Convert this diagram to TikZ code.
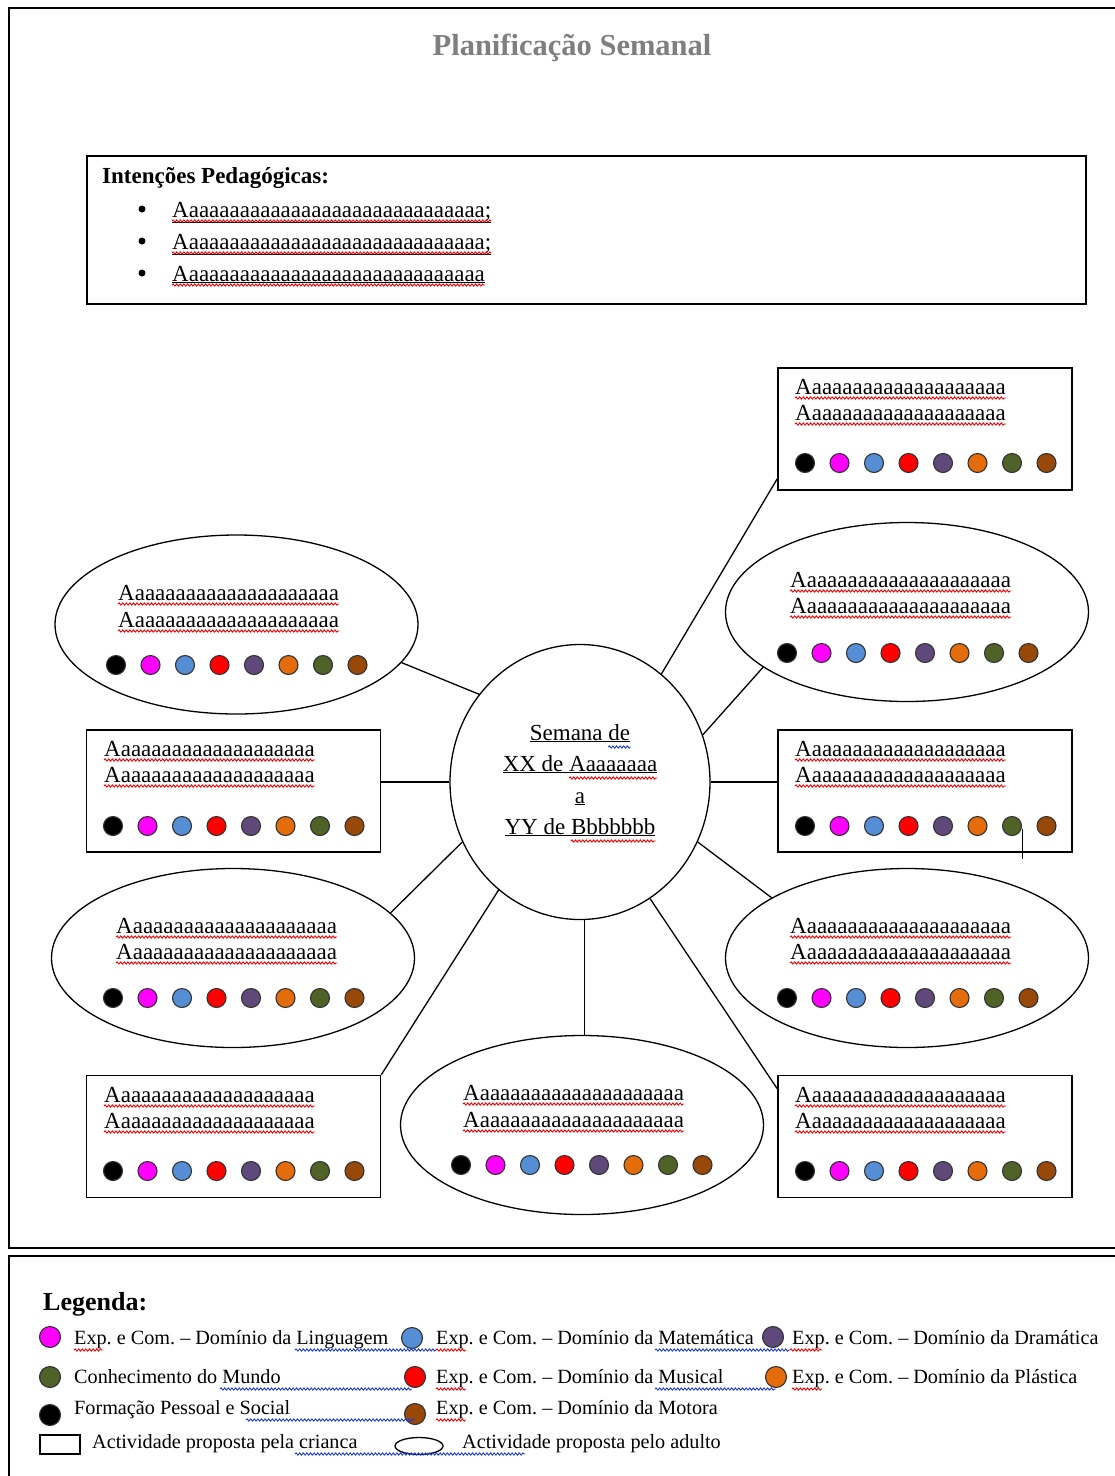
\documentclass[tikz,border=0pt]{standalone}
\usepackage{fontspec}
\setmainfont{Liberation Serif}
\usetikzlibrary{shapes.geometric,decorations.pathmorphing,calc}
\definecolor{cMag}{HTML}{FF00FF}
\definecolor{cBlue}{HTML}{558ED5}
\definecolor{cRed}{HTML}{FF0000}
\definecolor{cPurp}{HTML}{5F497A}
\definecolor{cOrng}{HTML}{E46C0A}
\definecolor{cGrn}{HTML}{4F6228}
\definecolor{cBrn}{HTML}{984807}
\definecolor{cSpell}{HTML}{FF0000}
\definecolor{cGram}{HTML}{1A3CE0}
\definecolor{cTitle}{HTML}{7F7F7F}
\newcommand\tenA{aaaaaaaaaa}
\newcommand\rectTxt{A\tenA aaaaaaaaa}
\newcommand\ovalTxt{A\tenA\tenA}
\newcommand\colorrow[3]{\foreach \cc [count=\ii from 0] in {black,cMag,cBlue,cRed,cPurp,cOrng,cGrn,cBrn}{\node[dot,fill=\cc] (#3-\ii) at ({#1+\ii*34.5},#2) {};}}
\newcommand\aline[4]{\node[txt] (#1) at (#2,#3) {#4};\draw[spell] ([yshift=-4pt]#1.base west) -- ([yshift=-4pt]#1.base east);}
\frenchspacing
\begin{document}
\begin{tikzpicture}[x=1pt,y=-1pt,
 box/.style={draw,line width=1.6pt,minimum width=294pt,minimum height=122pt,inner sep=0pt},
 oval/.style={draw,ellipse,line width=1.3pt,inner sep=0pt,minimum width=363pt,minimum height=179pt},
 link/.style={line width=1.3pt},
 txt/.style={anchor=base west,inner sep=0pt,font=\fontsize{23}{27}\selectfont},
 ctxt/.style={anchor=base,inner sep=0pt,font=\fontsize{23}{27}\selectfont},
 ltxt/.style={anchor=base west,inner sep=0pt,font=\fontsize{20.2}{24}\selectfont},
 spell/.style={draw=cSpell,line width=0.9pt,decorate,decoration={snake,amplitude=1.1pt,segment length=3.6pt}},
 gram/.style={spell,draw=cGram},
 dot/.style={circle,draw=black!80,line width=1.1pt,minimum size=19pt,inner sep=0pt},
 ldot/.style={dot,minimum size=21pt},
 frame/.style={line width=1.6pt}]
\useasboundingbox (0,0) rectangle (1115,1476);
\fill[white] (0,0) rectangle (1115,1476);
\clip (0,0) rectangle (1115,1476);
% frames
\draw[frame] (1125,8) -- (9,8) -- (9,1248) -- (1125,1248);
\draw[frame] (1125,1256) -- (9,1256) -- (9,1490);
% title
\node[anchor=base,inner sep=0pt,text=cTitle,font=\bfseries\fontsize{30.5}{34}\selectfont] (title) at (572,55) {Planificação Semanal};
% intentions
\node[draw,line width=1.6pt,minimum width=999pt,minimum height=148pt,inner sep=0pt] (IP) at (586.5,230) {};
\node[anchor=base west,inner sep=0pt,font=\bfseries\fontsize{23}{27}\selectfont] (IPt) at (102,183) {Intenções Pedagógicas:};
\node[circle,fill,inner sep=0pt,minimum size=7pt] (b1) at (142,209) {};
\node[circle,fill,inner sep=0pt,minimum size=7pt] (b2) at (142,241) {};
\node[circle,fill,inner sep=0pt,minimum size=7pt] (b3) at (142,273) {};
\aline{i1}{172}{217}{\underline{A\tenA\tenA aaaaaaaaa;}}
\aline{i2}{172}{249}{\underline{A\tenA\tenA aaaaaaaaa;}}
\aline{i3}{172}{281}{\underline{A\tenA\tenA aaaaaaaaa}}
% centre
\node[draw,ellipse,line width=1.3pt,minimum width=260pt,minimum height=275pt,inner sep=0pt] (C) at (580,782) {};
\node[ctxt] (c1) at (580,740) {\underline{Semana de}};
\node[anchor=base east,inner sep=0pt,font=\fontsize{23}{27}\selectfont] (c1b) at (c1.base east) {\phantom{de}};
\draw[gram] ([yshift=-7pt]c1b.base west) -- ([yshift=-7pt]c1b.base east);
\node[ctxt] (c2) at (580,771) {\underline{XX de Aaaaaaaa}};
\node[anchor=base east,inner sep=0pt,font=\fontsize{23}{27}\selectfont] (c2b) at (c2.base east) {\phantom{Aaaaaaaa}};
\draw[spell] ([yshift=-7pt]c2b.base west) -- ([yshift=-7pt]c2b.base east);
\node[ctxt] (c3) at (580,803) {\underline{a}};
\node[ctxt] (c4) at (580,834) {\underline{YY de Bbbbbbb}};
\node[anchor=base east,inner sep=0pt,font=\fontsize{23}{27}\selectfont] (c4b) at (c4.base east) {\phantom{Bbbbbbb}};
\draw[spell] ([yshift=-7pt]c4b.base west) -- ([yshift=-7pt]c4b.base east);
% R1
\node[box] (R1) at (925,429) {};
\aline{R1a}{795}{394}{\rectTxt}
\aline{R1b}{795}{420}{\rectTxt}
\colorrow{805}{463}{R1}
% E1
\node[oval] (E1) at (907,612) {};
\aline{E1a}{790}{587}{\ovalTxt}
\aline{E1b}{790}{613}{\ovalTxt}
\colorrow{787}{653}{E1}
% R2
\node[box] (R2) at (925,791) {};
\aline{R2a}{795}{756}{\rectTxt}
\aline{R2b}{795}{782}{\rectTxt}
\colorrow{805}{826}{R2}
% E2
\node[oval] (E2) at (907,958) {};
\aline{E2a}{790}{933}{\ovalTxt}
\aline{E2b}{790}{959}{\ovalTxt}
\colorrow{787}{998}{E2}
% R3
\node[box] (R3) at (925,1136.5) {};
\aline{R3a}{795}{1102}{\rectTxt}
\aline{R3b}{795}{1128}{\rectTxt}
\colorrow{805}{1171}{R3}
% E3
\node[oval] (E3) at (582,1125) {};
\aline{E3a}{463}{1100}{\ovalTxt}
\aline{E3b}{463}{1127}{\ovalTxt}
\colorrow{461}{1165}{E3}
% R4
\node[box] (R4) at (233.5,1136.5) {};
\aline{R4a}{104}{1102}{\rectTxt}
\aline{R4b}{104}{1128}{\rectTxt}
\colorrow{113}{1171}{R4}
% E4
\node[oval] (E4) at (233,958) {};
\aline{E4a}{116}{933}{\ovalTxt}
\aline{E4b}{116}{959}{\ovalTxt}
\colorrow{113}{998}{E4}
% R5
\node[box] (R5) at (233.5,791) {};
\aline{R5a}{104}{756}{\rectTxt}
\aline{R5b}{104}{782}{\rectTxt}
\colorrow{113}{826}{R5}
% E5
\node[oval] (E5) at (236.5,624.5) {};
\aline{E5a}{118}{600}{\ovalTxt}
\aline{E5b}{118}{627}{\ovalTxt}
\colorrow{116}{665}{E5}
% connectors
\draw[link] (C.53) -- ($(R1.south west)+(0,-12)$);
\draw[link] (C.21) -- (E1.201);
\draw[link] (C.east) -- (C.east -| R2.west);
\draw[link] (C.-27) -- (E2.156);
\draw[link] (C.-59) -- ($(R3.north west)+(0,14)$);
\draw[link] (C.-88) -- (C.-88 |- E3.north);
\draw[link] (C.233) -- (R4.north east);
\draw[link] (C.207) -- (E4.16);
\draw[link] (C.west) -- (C.west -| R5.east);
\draw[link] (C.139) -- (E5.-13);
\draw[line width=1.1pt] ($(R2-6.east)+(0,3)$) -- ++(0,30);
% legend
\node[anchor=base west,inner sep=0pt,font=\bfseries\fontsize{26}{30}\selectfont] (leg) at (43,1310) {Legenda:};
\node[ldot,fill=cMag] (l1) at (50,1337) {};
\node[ltxt] (lt1) at (74,1344) {Exp. e Com. -- Domínio da Linguagem};
\node[ldot,fill=cBlue] (l2) at (412,1338) {};
\node[ltxt] (lt2) at (436,1344) {Exp. e Com. -- Domínio da Matemática};
\node[ldot,fill=cPurp] (l3) at (773,1337) {};
\node[ltxt] (lt3) at (792,1344) {Exp. e Com. -- Domínio da Dramática};
\node[ldot,fill=cGrn] (l4) at (50,1377) {};
\node[ltxt] (lt4) at (74,1383) {Conhecimento do Mundo};
\node[ldot,fill=cRed] (l5) at (415,1377) {};
\node[ltxt] (lt5) at (436,1383) {Exp. e Com. -- Domínio da Musical};
\node[ldot,fill=cOrng] (l6) at (776,1377) {};
\node[ltxt] (lt6) at (792,1383) {Exp. e Com. -- Domínio da Plástica};
\node[ldot,fill=black] (l7) at (50,1415) {};
\node[ltxt] (lt7) at (74,1414) {Formação Pessoal e Social};
\node[ldot,fill=cBrn] (l8) at (415,1414) {};
\node[ltxt] (lt8) at (436,1414) {Exp. e Com. -- Domínio da Motora};
\node[draw,line width=1.3pt,minimum width=40pt,minimum height=19pt,inner sep=0pt] (l9) at (60,1444.5) {};
\node[ltxt] (lt9) at (92,1448) {Actividade proposta pela crianca};
\node[draw,ellipse,line width=1.3pt,minimum width=48pt,minimum height=17pt,inner sep=0pt] (l10) at (419,1446) {};
\node[ltxt] (lt10) at (462,1448) {Actividade proposta pelo adulto};
% legend squiggles
\draw[spell] (74,1350) -- (103,1350);
\draw[gram] (295,1350) -- (436,1350);
\draw[spell] (436,1350) -- (466,1350);
\draw[gram] (655,1350) -- (790,1350);
\draw[spell] (790,1350) -- (822,1350);
\draw[gram] (220,1389) -- (412,1389);
\draw[spell] (436,1389) -- (466,1389);
\draw[gram] (655,1389) -- (776,1389);
\draw[spell] (792,1389) -- (822,1389);
\draw[gram] (246,1420) -- (415,1420);
\draw[spell] (436,1420) -- (466,1420);
\draw[gram] (295,1454) -- (525,1454);
\end{tikzpicture}
\end{document}
